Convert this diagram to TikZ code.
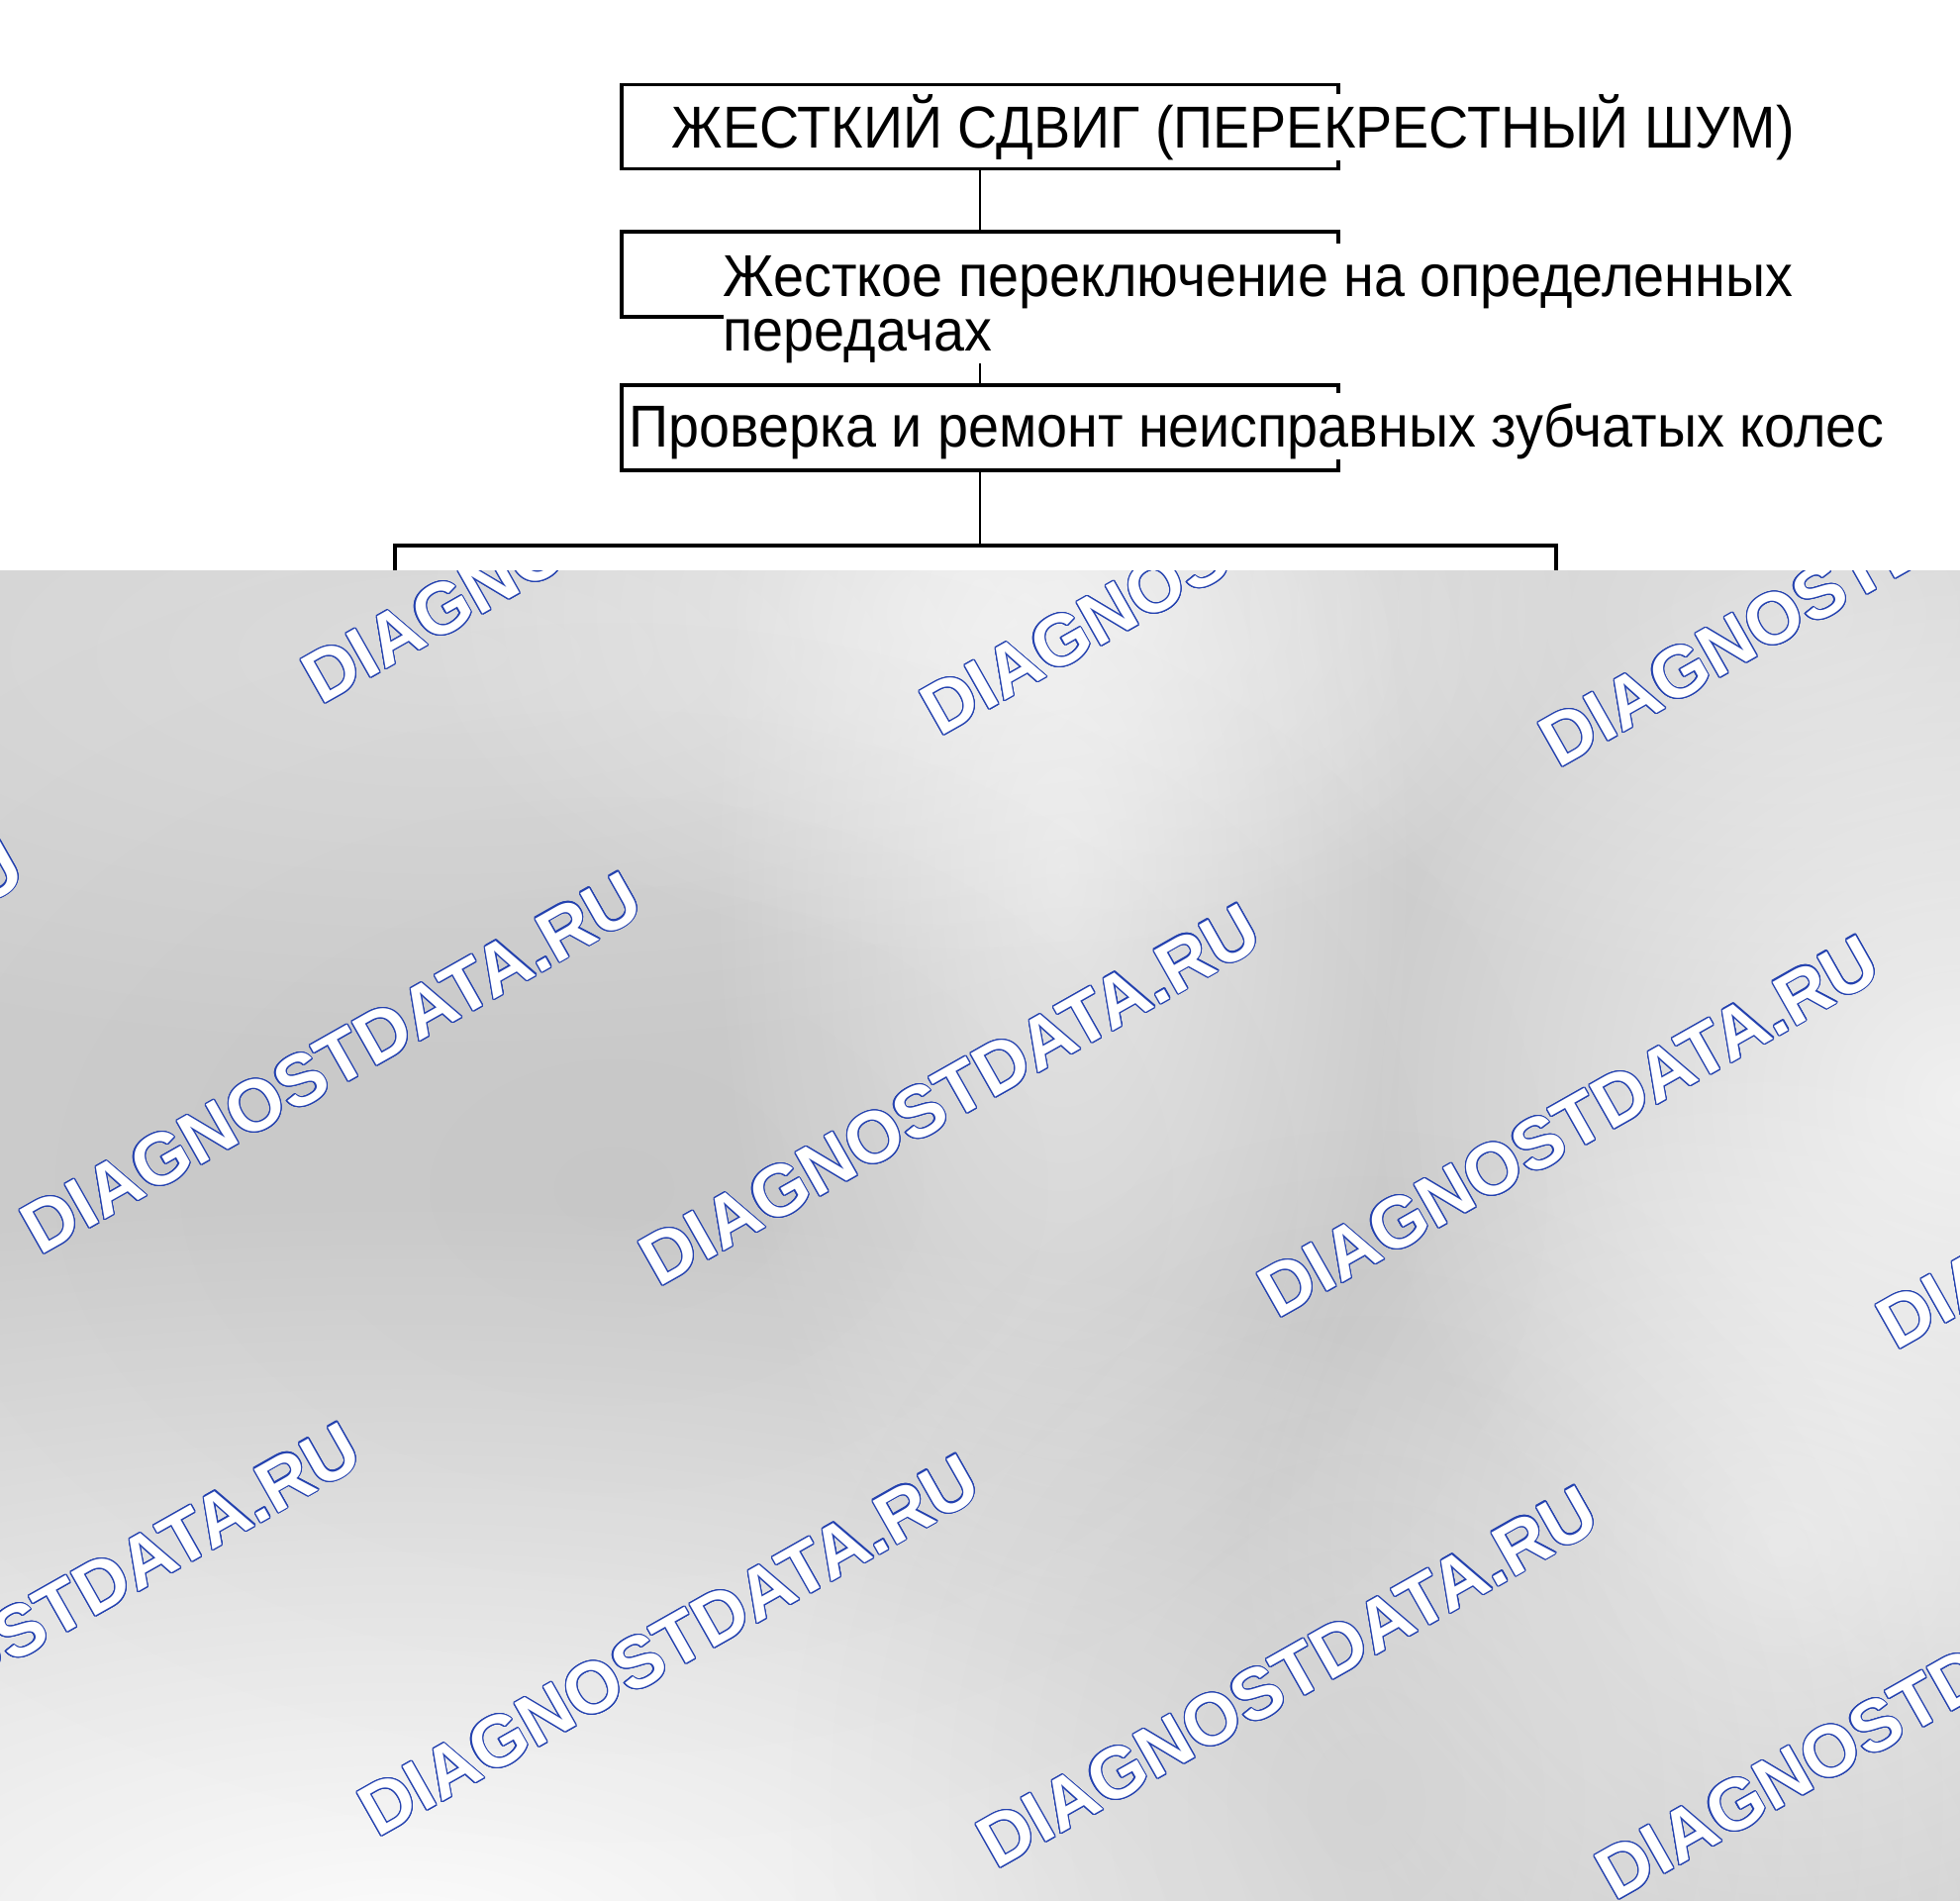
\documentclass[tikz,border=0pt]{standalone}
\usepackage{fontspec}
\newfontfamily\boxfont{Liberation Sans}[FakeStretch=0.932]
\newfontfamily\wmfont{Liberation Sans}
\usepackage{tikz}
\usetikzlibrary{positioning,fadings}
\definecolor{bggrey}{HTML}{CECECE}
\definecolor{wmblue}{RGB}{35,65,175}
\tikzfading[name=blob,inner color=transparent!0,outer color=transparent!100]
% watermark: blue halo copies, white text on top
\newcommand{\wmark}[1]{%
  \foreach \ang in {0,22.5,...,337.5}
    \node[wm,text=wmblue,shift={(\ang:0.35pt)}] at #1 {DIAGNOSTDATA.RU};
  \node[wm,text=white] at #1 {DIAGNOSTDATA.RU};}

\begin{document}
\begin{tikzpicture}[x=0.1mm,y=-0.1mm]
  \tikzstyle{box}=[draw,line width=1.1pt,minimum width=72.4mm,minimum height=8.5mm,inner sep=0pt]
  \tikzstyle{txt}=[fill=white,inner sep=0pt,font=\boxfont\fontsize{17pt}{15.6pt}\selectfont]
  \tikzstyle{wire}=[line width=0.6pt]
  \tikzstyle{wm}=[anchor=base west,rotate=29.5,inner sep=0pt,font=\wmfont\bfseries\fontsize{20.8pt}{21pt}\selectfont]
  \tikzstyle{glow}=[white,path fading=blob]
  \useasboundingbox (0,0) rectangle (1980,1920);

  \node[box] (noise) at (990,128) {};
  \node[box,minimum height=8.6mm] (shift) at (990,277) {};
  \node[box,minimum height=8.6mm] (repair) at (990,432) {};
  \coordinate (split) at (990,551);
  \coordinate (leftdrop) at (399,600);
  \coordinate (rightdrop) at (1572,600);

  \draw[wire] (noise) -- (shift);
  \draw[wire] (shift) -- (repair);
  \draw[wire] (repair) -- (split);
  \draw[line width=1.1pt] (leftdrop) |- (split) -| (rightdrop);

  \node[txt,anchor=base west,text height=5.4mm,text depth=1.3mm] (noisetxt) at (678,149) {ЖЕСТКИЙ СДВИГ (ПЕРЕКРЕСТНЫЙ ШУМ)};
  \node[txt,anchor=north west,align=left] (shifttxt) at (730,245) {\rule{0pt}{5.4mm}Жесткое переключение на определенных\\передачах};
  \node[txt,anchor=base west,text height=5.4mm,text depth=1.3mm] (repairtxt) at (635,451) {Проверка и ремонт неисправных зубчатых колес};

  % grey overlay with watermarks
  \fill[bggrey] (0,576) rectangle (1980,1920);
  \begin{scope}
    \clip (0,576) rectangle (1980,1920);
    \fill[glow,opacity=0.3] (450,660) ellipse (1100 and 420);
    \fill[glow,opacity=0.55] (1073,880) ellipse (360 and 800);
    \fill[glow,opacity=0.5] (1010,620) ellipse (600 and 360);
    \fill[glow,opacity=0.35] (1800,620) ellipse (600 and 400);
    \fill[glow,opacity=0.7] (1980,1110) ellipse (600 and 600);
    \fill[glow,opacity=0.55] (1800,1560) ellipse (560 and 500);
    \fill[glow,opacity=0.95] (400,1970) ellipse (1700 and 760);
    \fill[black,path fading=blob,opacity=0.03] (620,1200) ellipse (1000 and 700);
    \fill[black,path fading=blob,opacity=0.06] (1380,1820) ellipse (600 and 700);
    \foreach \p in {(324,713),(949,745),(1574,777),(-585,1237),(40,1269),(665,1301),(1290,1333),(1915,1365),(-244,1825),(381,1857),(1006,1889),(1631,1921)}
      {\wmark{\p}}
  \end{scope}
\end{tikzpicture}
\end{document}
